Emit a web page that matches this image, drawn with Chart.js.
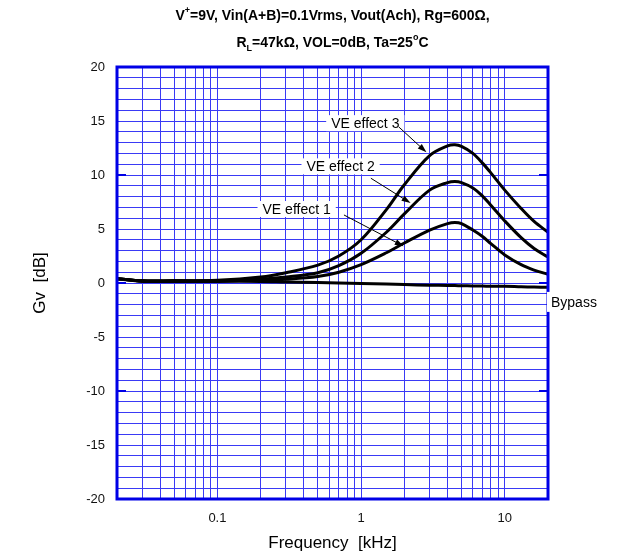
<!DOCTYPE html>
<html>
<head>
<meta charset="utf-8">
<script src="https://cdn.jsdelivr.net/npm/chart.js@4.4.1/dist/chart.umd.min.js"></script>
<style>
  html, body { margin: 0; padding: 0; background: #fff; }
  #wrap { width: 617px; height: 556px; }
</style>
</head>
<body>
<div id="wrap"><canvas id="grafico"></canvas></div>
<script>
// frequenze in kHz, guadagno in dB
const freqs  = [0.02, 0.03, 0.05, 0.1, 0.2, 0.3, 0.5, 0.7, 1, 1.5, 2, 3, 4, 4.5, 5, 6, 7, 8, 10, 13, 16, 20];
const ve3    = [0.4, 0.2, 0.2, 0.25, 0.55, 0.95, 1.65, 2.5, 4.0, 6.8, 9.1, 11.8, 12.7, 12.8, 12.65, 12.0, 11.1, 10.2, 8.6, 6.9, 5.7, 4.7];
const ve2    = [0.4, 0.2, 0.2, 0.2, 0.35, 0.55, 0.95, 1.6, 2.75, 4.7, 6.4, 8.6, 9.3, 9.4, 9.3, 8.8, 8.05, 7.2, 5.75, 4.2, 3.2, 2.4];
const ve1    = [0.4, 0.2, 0.2, 0.2, 0.25, 0.35, 0.6, 1.0, 1.7, 2.8, 3.7, 4.9, 5.5, 5.6, 5.5, 4.9, 4.3, 3.65, 2.6, 1.7, 1.2, 0.8];
const bypass = [0.4, 0.15, 0.15, 0.15, 0.15, 0.1, 0.05, 0.0, -0.05, -0.1, -0.15, -0.2, -0.22, -0.24, -0.25, -0.27, -0.28, -0.3, -0.3, -0.35, -0.38, -0.4];

const gridFreqs  = [0.02, 0.03, 0.04, 0.05, 0.06, 0.07, 0.08, 0.09, 0.1, 0.2, 0.3, 0.4, 0.5, 0.6, 0.7, 0.8, 0.9, 1, 2, 3, 4, 5, 6, 7, 8, 9, 10, 20];
const freqLabels = [0.1, 1, 10];

// etichette: testo, posizione (kHz, dB), freccia da / a (kHz, dB)
const curveLabels = [
  { text: 'VE effect 3', x: 1.07, y: 14.8, from: [1.83, 14.45], to: [2.85, 12.1] },
  { text: 'VE effect 2', x: 0.72, y: 10.8, from: [1.17, 9.7],  to: [2.21, 7.4] },
  { text: 'VE effect 1', x: 0.356, y: 6.85, from: [0.76, 6.3], to: [1.98, 3.4] }
];

Chart.defaults.font.family = "'Liberation Sans', Arial, sans-serif";
Chart.defaults.color = '#111';

const BLU = '#0000e6';
const GRIGLIA = '#3a3af5';
const FONT = "'Liberation Sans', Arial, sans-serif";

function serie(vals) {
  return freqs.map((f, i) => ({ x: f, y: vals[i] }));
}

function freccia(ctx, x1, y1, x2, y2) {
  const a = Math.atan2(y2 - y1, x2 - x1);
  ctx.beginPath();
  ctx.moveTo(x1, y1);
  ctx.lineTo(x2 - 7 * Math.cos(a), y2 - 7 * Math.sin(a));
  ctx.strokeStyle = '#000';
  ctx.lineWidth = 1;
  ctx.stroke();
  ctx.beginPath();
  ctx.moveTo(x2, y2);
  ctx.lineTo(x2 - 9 * Math.cos(a) + 3 * Math.sin(a), y2 - 9 * Math.sin(a) - 3 * Math.cos(a));
  ctx.lineTo(x2 - 9 * Math.cos(a) - 3 * Math.sin(a), y2 - 9 * Math.sin(a) + 3 * Math.cos(a));
  ctx.closePath();
  ctx.fillStyle = '#000';
  ctx.fill();
}

// scrive una riga con apici e pedici, centrata in cx
function rigaTitolo(ctx, parti, cx, cy) {
  const norm = 'bold 14px ' + FONT, small = 'bold 9px ' + FONT;
  let w = 0;
  parti.forEach(p => { ctx.font = (p.sup || p.sub) ? small : norm; w += ctx.measureText(p.t).width; });
  let x = cx - w / 2;
  ctx.textAlign = 'left';
  ctx.textBaseline = 'middle';
  ctx.fillStyle = '#000';
  parti.forEach(p => {
    ctx.font = (p.sup || p.sub) ? small : norm;
    const dy = p.sup ? -5 : (p.sub ? 6 : 0);
    ctx.fillText(p.t, x, cy + dy);
    x += ctx.measureText(p.t).width;
  });
}

const decorazioni = {
  id: 'decorazioni',
  afterDatasetsDraw(chart) {
    const { ctx, chartArea: ca, scales: { x, y } } = chart;
    ctx.save();
    ctx.font = '14px ' + FONT;
    curveLabels.forEach(l => {
      const px = x.getPixelForValue(l.x), py = y.getPixelForValue(l.y);
      const w = ctx.measureText(l.text).width;
      ctx.fillStyle = '#fff';
      ctx.fillRect(px - w / 2 - 5, py - 8, w + 10, 16);
      ctx.fillStyle = '#000';
      ctx.textAlign = 'center';
      ctx.textBaseline = 'middle';
      ctx.fillText(l.text, px, py + 1);
      freccia(ctx, x.getPixelForValue(l.from[0]), y.getPixelForValue(l.from[1]),
                   x.getPixelForValue(l.to[0]), y.getPixelForValue(l.to[1]));
    });

    // cornice blu
    ctx.strokeStyle = BLU;
    ctx.lineWidth = 3;
    ctx.strokeRect(ca.left, ca.top, ca.right - ca.left, ca.bottom - ca.top);
    ctx.lineWidth = 2;
    [-10, 0, 10].forEach(v => {
      const py = y.getPixelForValue(v);
      ctx.beginPath();
      ctx.moveTo(ca.left, py); ctx.lineTo(ca.left + 9, py);
      ctx.moveTo(ca.right, py); ctx.lineTo(ca.right - 9, py);
      ctx.stroke();
    });

    // Bypass
    const by = y.getPixelForValue(-1.75);
    ctx.fillStyle = '#fff';
    ctx.fillRect(ca.right - 1, by - 10, 56, 20);
    ctx.fillStyle = '#000';
    ctx.font = '14px ' + FONT;
    ctx.textAlign = 'left';
    ctx.textBaseline = 'middle';
    ctx.fillText('Bypass', ca.right + 3, by + 1);

    // titolo
    const cx = (ca.left + ca.right) / 2;
    rigaTitolo(ctx, [{ t: 'V' }, { t: '+', sup: true }, { t: '=9V, Vin(A+B)=0.1Vrms, Vout(Ach), Rg=600Ω,' }], cx, 16);
    rigaTitolo(ctx, [{ t: 'R' }, { t: 'L', sub: true }, { t: '=47kΩ, VOL=0dB, Ta=25' }, { t: 'o', sup: true }, { t: 'C' }], cx, 43);
    ctx.restore();
  }
};

const ctx = document.getElementById('grafico').getContext('2d');

const stile = { borderColor: '#000', borderWidth: 3, pointRadius: 0, fill: false, tension: 0.35 };

new Chart(ctx, {
  type: 'line',
  data: {
    datasets: [
      { label: 'VE effect 3', data: serie(ve3), ...stile },
      { label: 'VE effect 2', data: serie(ve2), ...stile },
      { label: 'VE effect 1', data: serie(ve1), ...stile },
      { label: 'Bypass', data: serie(bypass), ...stile }
    ]
  },
  options: {
    responsive: true,
    maintainAspectRatio: false,
    animation: false,
    devicePixelRatio: 1,
    layout: { padding: { top: 67, right: 69, bottom: 0, left: 0 } },
    plugins: { legend: { display: false }, tooltip: { enabled: false } },
    scales: {
      x: {
        type: 'logarithmic',
        min: 0.02,
        max: 20,
        afterBuildTicks: ax => { ax.ticks = gridFreqs.map(v => ({ value: v })); },
        afterFit: s => { s.height = 57; },
        ticks: {
          autoSkip: false,
          maxRotation: 0,
          padding: 12,
          font: { size: 13 },
          callback: v => freqLabels.includes(v) ? String(v) : ''
        },
        grid: { color: GRIGLIA, lineWidth: 1, drawTicks: false },
        border: { display: false },
        title: { display: true, text: 'Frequency  [kHz]', font: { size: 17 }, color: '#000', padding: { top: 0, bottom: 2 } }
      },
      y: {
        type: 'linear',
        min: -20,
        max: 20,
        afterFit: s => { s.width = 117; },
        ticks: {
          stepSize: 1,
          maxTicksLimit: 50,
          autoSkip: false,
          padding: 12,
          font: { size: 13 },
          callback: v => v % 5 === 0 ? String(v) : ''
        },
        grid: { color: GRIGLIA, lineWidth: 1, drawTicks: false },
        border: { display: false },
        title: { display: true, text: 'Gv  [dB]', font: { size: 17 }, color: '#000', padding: { top: 30, bottom: 0 } }
      }
    }
  },
  plugins: [decorazioni]
});
</script>
</body>
</html>
